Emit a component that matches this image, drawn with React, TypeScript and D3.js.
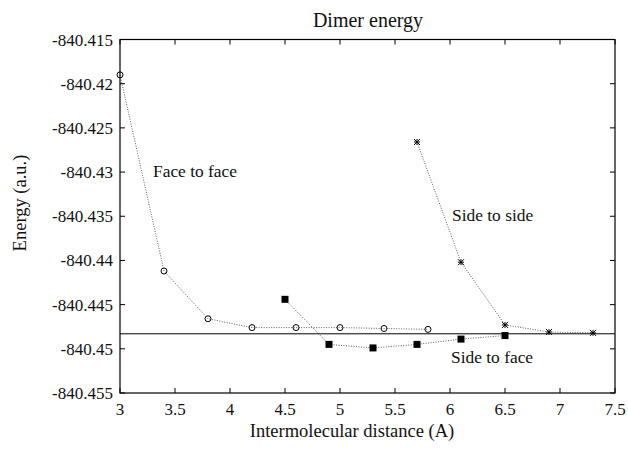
import React from "react";
import * as d3 from "d3";

const faceX = [3, 3.4, 3.8, 4.2, 4.6, 5.0, 5.4, 5.8];
const faceY = [-840.419, -840.4412, -840.4466, -840.4476, -840.4476, -840.4476, -840.4477, -840.4478];
const sideFaceX = [4.5, 4.9, 5.3, 5.7, 6.1, 6.5];
const sideFaceY = [-840.4444, -840.4495, -840.4499, -840.4495, -840.4489, -840.4485];
const sideSideX = [5.7, 6.1, 6.5, 6.9, 7.3];
const sideSideY = [-840.4266, -840.4402, -840.4473, -840.4481, -840.4482];
const refLineY = -840.4483;
const xTicks = [3, 3.5, 4, 4.5, 5, 5.5, 6, 6.5, 7, 7.5];
const yTicks = [-840.415, -840.42, -840.425, -840.43, -840.435, -840.44, -840.445, -840.45, -840.455];
const yTickLabels = ["-840.415", "-840.42", "-840.425", "-840.43", "-840.435", "-840.44", "-840.445", "-840.45", "-840.455"];

const W = 628, H = 451;
const L = 120, R = 615, T = 39.5, B = 393;
const font = `"Liberation Serif", "Times New Roman", serif`;

export default function App() {
  const x = d3.scaleLinear().domain([3, 7.5]).range([L, R]);
  const y = d3.scaleLinear().domain([-840.415, -840.455]).range([T, B]);
  const line = d3.line<[number, number]>().x(d => x(d[0])).y(d => y(d[1]));
  const face = faceX.map((v, i) => [v, faceY[i]] as [number, number]);
  const sf = sideFaceX.map((v, i) => [v, sideFaceY[i]] as [number, number]);
  const ss = sideSideX.map((v, i) => [v, sideSideY[i]] as [number, number]);
  const dot = { fill: "none", stroke: "#333", strokeWidth: 0.8, strokeDasharray: "1,1.5" };
  const ts = { fontFamily: font, fill: "#111" };
  return (
    <svg width={W} height={H} style={{ position: "absolute", left: 0, top: 0, background: "#fff" }}>
      <rect x={0} y={0} width={W} height={H} fill="#fff" />
      <text x={368} y={27} textAnchor="middle" fontSize={20} style={ts}>Dimer energy</text>
      <path d={line(face) || ""} {...dot} />
      <path d={line(sf) || ""} {...dot} />
      <path d={line(ss) || ""} {...dot} />
      <line x1={x(3)} x2={x(7.5)} y1={y(refLineY)} y2={y(refLineY)} stroke="#000" strokeWidth={1} />
      {face.map((d, i) => (
        <circle key={"c" + i} cx={x(d[0])} cy={y(d[1])} r={3} fill="none" stroke="#000" strokeWidth={1} />
      ))}
      {sf.map((d, i) => (
        <rect key={"s" + i} x={x(d[0]) - 3.5} y={y(d[1]) - 3.5} width={7} height={7} fill="#000" />
      ))}
      {ss.map((d, i) => {
        const cx = x(d[0]), cy = y(d[1]), s = 3;
        return (
          <g key={"a" + i} stroke="#000" strokeWidth={1}>
            <line x1={cx - s} x2={cx + s} y1={cy - s} y2={cy + s} />
            <line x1={cx - s} x2={cx + s} y1={cy + s} y2={cy - s} />
            <line x1={cx - s} x2={cx + s} y1={cy} y2={cy} />
            <line x1={cx} x2={cx} y1={cy - s} y2={cy + s} />
          </g>
        );
      })}
      <rect x={L} y={T} width={R - L} height={B - T} fill="none" stroke="#000" strokeWidth={1.2} />
      {xTicks.map((t, i) => (
        <g key={"xt" + i}>
          <line x1={x(t)} x2={x(t)} y1={B} y2={B - 5} stroke="#000" />
          <line x1={x(t)} x2={x(t)} y1={T} y2={T + 5} stroke="#000" />
          <text x={x(t)} y={B + 22} textAnchor="middle" fontSize={17} style={ts}>{t}</text>
        </g>
      ))}
      {yTicks.map((t, i) => (
        <g key={"yt" + i}>
          <line x1={L} x2={L + 5} y1={y(t)} y2={y(t)} stroke="#000" />
          <line x1={R} x2={R - 5} y1={y(t)} y2={y(t)} stroke="#000" />
          <text x={L - 7} y={y(t) + 6} textAnchor="end" fontSize={17} style={ts}>{yTickLabels[i]}</text>
        </g>
      ))}
      <text x={352} y={437} textAnchor="middle" fontSize={18.5} style={ts}>Intermolecular distance (A)</text>
      <text transform={`translate(26,203) rotate(-90)`} textAnchor="middle" fontSize={18.5} style={ts}>Energy (a.u.)</text>
      <text x={153} y={177} fontSize={17.4} style={ts}>Face to face</text>
      <text x={452} y={221} fontSize={17.4} style={ts}>Side to side</text>
      <text x={451} y={363} fontSize={17.4} style={ts}>Side to face</text>
    </svg>
  );
}
